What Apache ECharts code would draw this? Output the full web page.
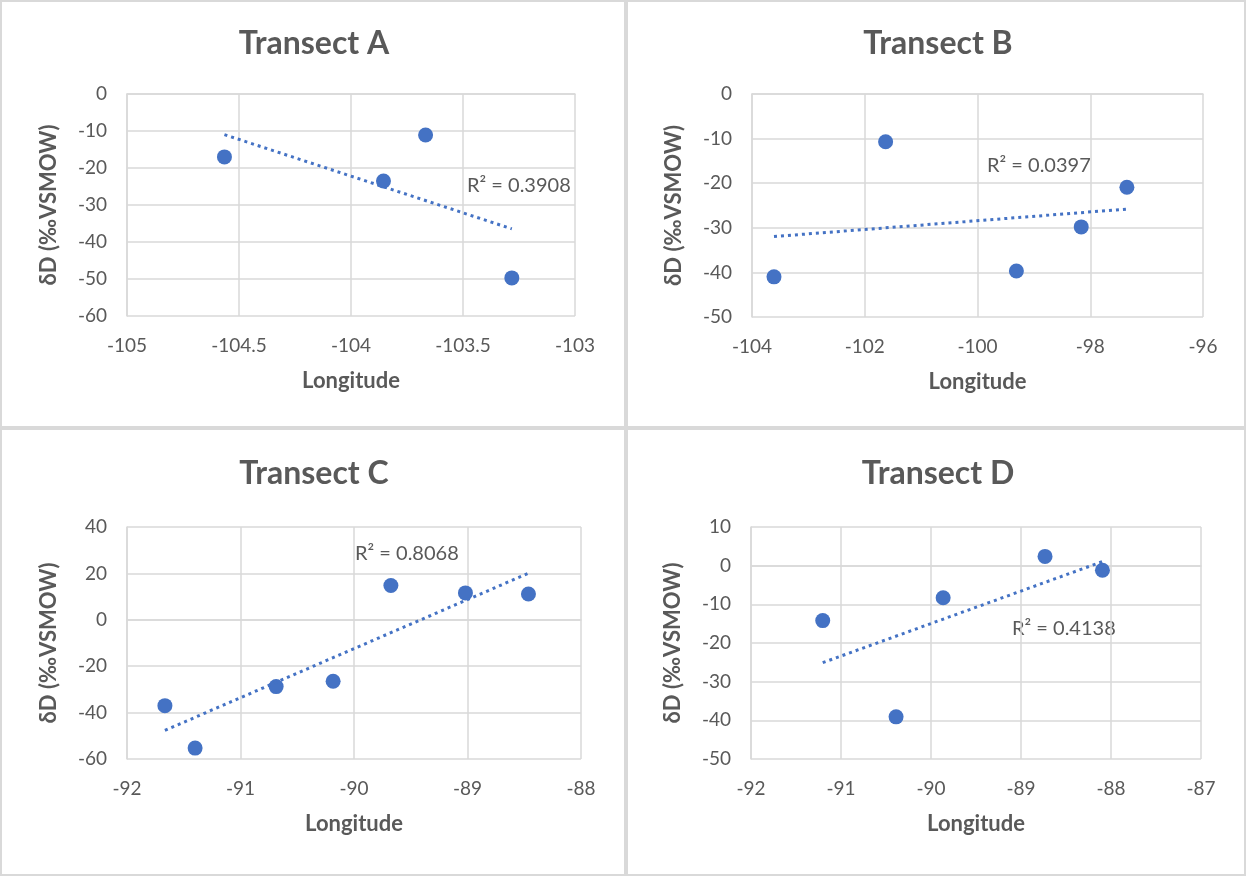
<!DOCTYPE html>
<html>
<head>
<meta charset="utf-8">
<script src="https://cdn.jsdelivr.net/npm/echarts@6/dist/echarts.min.js"></script>
<style>
html,body{margin:0;padding:0;background:#fff;}
#chart{width:1247px;height:877px;}
</style>
</head>
<body>
<div id="chart"></div>
<script>
// ---- Data ----
const titles = ['Transect A', 'Transect B', 'Transect C', 'Transect D'];
const r2Labels = ['R² = 0.3908', 'R² = 0.0397', 'R² = 0.8068', 'R² = 0.4138'];

const lonA = [-104.565, -103.855, -103.667, -103.282];
const dA   = [-17.0, -23.5, -11.1, -49.7];

const lonB = [-103.61, -101.63, -99.31, -98.16, -97.35];
const dB   = [-41.0, -10.7, -39.7, -29.8, -20.9];

const lonC = [-91.666, -91.40, -90.686, -90.184, -89.675, -89.018, -88.463];
const dC   = [-37.0, -55.3, -28.8, -26.5, 14.8, 11.6, 11.1];

const lonD = [-91.203, -90.388, -89.865, -88.733, -88.095];
const dD   = [-14.2, -39.1, -8.3, 2.4, -1.2];

// axis ranges / tick steps
const xMin = [-105, -104, -92, -92];
const xMax = [-103, -96, -88, -87];
const xStep = [0.5, 2, 1, 1];
const yMin = [-60, -50, -60, -50];
const yMax = [0, 0, 40, 10];
const yStep = [10, 10, 20, 10];

const xName = 'Longitude';
const yName = 'δD (‰VSMOW)';

// ---- Layout ----
const grids = [
  {left: 127, top: 94, width: 448, height: 222},
  {left: 752, top: 94, width: 451, height: 223},
  {left: 127, top: 527, width: 454, height: 232},
  {left: 751, top: 527, width: 450, height: 232}
];
const panels = [
  {x: 1, y: 1, w: 624, h: 426},
  {x: 627, y: 1, w: 618, h: 426},
  {x: 1, y: 429, w: 624, h: 446},
  {x: 627, y: 429, w: 618, h: 446}
];
const titlePos = [[314, 44], [938, 44], [314, 474], [938, 474]];
const r2Pos = [[467, 186], [987, 166], [355, 554], [1012, 629]];

const sets = [[lonA, dA], [lonB, dB], [lonC, dC], [lonD, dD]];

function linFit(xs, ys) {
  const n = xs.length;
  const mx = xs.reduce((a, b) => a + b, 0) / n;
  const my = ys.reduce((a, b) => a + b, 0) / n;
  let sxy = 0, sxx = 0;
  for (let i = 0; i < n; i++) { sxy += (xs[i] - mx) * (ys[i] - my); sxx += (xs[i] - mx) ** 2; }
  const slope = sxy / sxx;
  const x0 = Math.min(...xs), x1 = Math.max(...xs);
  return [[x0, my + slope * (x0 - mx)], [x1, my + slope * (x1 - mx)]];
}

const FONT = 'Lato, "Open Sans", sans-serif';
const GRAY = '#595959';
const GRID = '#d9d9d9';
const BLUE = '#4472C4';

const option = {
  animation: false,
  backgroundColor: '#fff',
  grid: grids.map(g => Object.assign({containLabel: false}, g)),
  xAxis: grids.map((g, i) => ({
    gridIndex: i, type: 'value', min: xMin[i], max: xMax[i], interval: xStep[i],
    name: xName, nameLocation: 'middle', nameGap: 54,
    nameTextStyle: {color: GRAY, fontFamily: FONT, fontSize: 22, fontWeight: 'bold'},
    axisLine: {show: true, lineStyle: {color: GRID, width: 1.5}},
    axisTick: {show: false},
    axisLabel: {color: GRAY, fontFamily: FONT, fontSize: 19, margin: 20},
    splitLine: {show: true, lineStyle: {color: GRID, width: 1.5}}
  })),
  yAxis: grids.map((g, i) => ({
    gridIndex: i, type: 'value', min: yMin[i], max: yMax[i], interval: yStep[i],
    name: yName, nameLocation: 'middle', nameGap: 67, nameRotate: 90,
    nameTextStyle: {color: GRAY, fontFamily: FONT, fontSize: 22, fontWeight: 'bold'},
    axisLine: {show: true, lineStyle: {color: GRID, width: 1.5}},
    axisTick: {show: false},
    axisLabel: {color: GRAY, fontFamily: FONT, fontSize: 19, margin: 20},
    splitLine: {show: true, lineStyle: {color: GRID, width: 1.5}}
  })),
  series: [],
  graphic: []
};

sets.forEach(([xs, ys], i) => {
  option.series.push({
    type: 'scatter', xAxisIndex: i, yAxisIndex: i,
    data: xs.map((x, k) => [x, ys[k]]),
    symbol: 'circle', symbolSize: 15,
    itemStyle: {color: BLUE, opacity: 1}, z: 2
  });
  option.series.push({
    type: 'line', xAxisIndex: i, yAxisIndex: i,
    data: linFit(xs, ys), symbol: 'none',
    lineStyle: {color: BLUE, width: 3, type: [3, 4]}, z: 3
  });
});

panels.forEach(p => {
  option.graphic.push({
    type: 'rect', shape: {x: p.x, y: p.y, width: p.w, height: p.h},
    style: {fill: null, stroke: GRID, lineWidth: 2}, silent: true
  });
});
titles.forEach((t, i) => {
  option.graphic.push({
    type: 'text', x: titlePos[i][0], y: titlePos[i][1],
    style: {text: t, fill: GRAY, font: 'bold 32px ' + FONT, textAlign: 'center', textVerticalAlign: 'middle'}
  });
});
r2Labels.forEach((t, i) => {
  option.graphic.push({
    type: 'text', x: r2Pos[i][0], y: r2Pos[i][1],
    style: {text: t, fill: GRAY, font: '20px ' + FONT, textAlign: 'left', textVerticalAlign: 'middle'}
  });
});

const chart = echarts.init(document.getElementById('chart'), null, {renderer: 'canvas'});
chart.setOption(option);
</script>
</body>
</html>
